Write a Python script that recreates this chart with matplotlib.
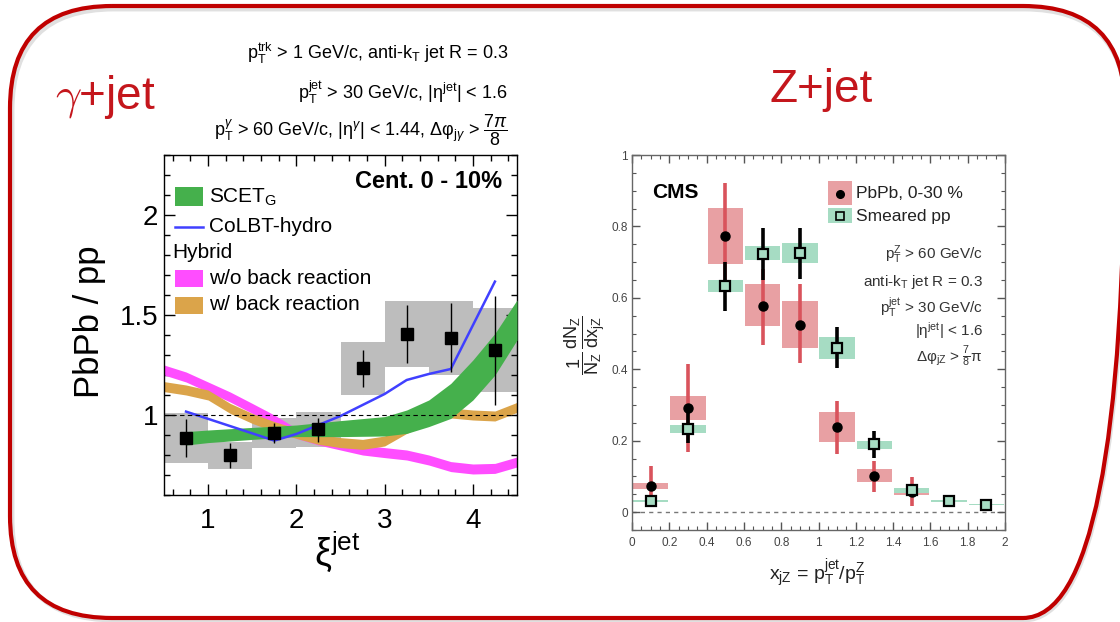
import numpy as np
import matplotlib
matplotlib.use("Agg")
import matplotlib.pyplot as plt
import matplotlib.patches as mpatches
from matplotlib.ticker import MultipleLocator

plt.rcParams['font.family'] = ['Liberation Sans', 'DejaVu Sans']
plt.rcParams['mathtext.fontset'] = 'custom'
plt.rcParams['mathtext.rm'] = 'Liberation Sans'
plt.rcParams['mathtext.it'] = 'Liberation Sans:italic'
plt.rcParams['mathtext.bf'] = 'Liberation Sans:bold'

# ---------------- gamma+jet: PbPb/pp vs xi^jet ----------------
xi_bins = [0.75, 1.25, 1.75, 2.25, 2.75, 3.25, 3.75, 4.25]
xi_ratio = [0.887, 0.800, 0.912, 0.930, 1.233, 1.405, 1.387, 1.325]
xi_stat_lo = [0.790, 0.737, 0.858, 0.867, 1.142, 1.260, 1.217, 1.050]
xi_stat_hi = [0.978, 0.858, 0.962, 0.983, 1.325, 1.550, 1.558, 1.595]
xi_sys_lo = [0.758, 0.730, 0.833, 0.842, 1.100, 1.242, 1.200, 1.117]
xi_sys_hi = [1.008, 0.867, 0.983, 1.017, 1.367, 1.570, 1.570, 1.533]

scet_x = [0.75, 1.0, 1.5, 2.0, 2.5, 3.0, 3.25, 3.5, 3.75, 4.0, 4.25, 4.5]
scet_lo = [0.850, 0.862, 0.878, 0.892, 0.892, 0.895, 0.908, 0.942, 0.983, 1.075, 1.200, 1.375]
scet_hi = [0.917, 0.925, 0.938, 0.950, 0.972, 0.992, 1.025, 1.075, 1.158, 1.275, 1.408, 1.575]

colbt_x = [0.75, 1.75, 2.0, 2.5, 3.0, 3.25, 3.5, 3.75, 4.25]
colbt_y = [1.017, 0.872, 0.905, 0.995, 1.105, 1.175, 1.205, 1.230, 1.667]

hyb_x = [0.5, 0.75, 1.0, 1.25, 1.5, 1.75, 2.0, 2.25, 2.5, 2.75, 3.0, 3.25,
         3.5, 3.75, 4.0, 4.25, 4.5]
hyb_wo = [1.225, 1.190, 1.140, 1.090, 1.033, 0.975, 0.908, 0.875, 0.850,
          0.825, 0.812, 0.800, 0.775, 0.742, 0.730, 0.733, 0.765]
hyb_w = [1.142, 1.125, 1.100, 1.033, 0.983, 0.942, 0.908, 0.878, 0.862,
         0.853, 0.870, 0.933, 0.983, 1.010, 1.000, 0.995, 1.038]
hyb_halfwidth = 0.025

# ---------------- Z+jet: x_jZ distribution ----------------
pb_x = [0.1, 0.3, 0.5, 0.7, 0.9, 1.1, 1.3, 1.5]
pb_y = [0.074, 0.291, 0.773, 0.577, 0.525, 0.238, 0.102, 0.056]
pb_stat_lo = [0.020, 0.168, 0.620, 0.468, 0.417, 0.164, 0.057, 0.017]
pb_stat_hi = [0.130, 0.414, 0.923, 0.680, 0.640, 0.312, 0.142, 0.098]
pb_sys_lo = [0.065, 0.257, 0.694, 0.520, 0.459, 0.196, 0.084, 0.047]
pb_sys_hi = [0.082, 0.325, 0.851, 0.640, 0.591, 0.281, 0.121, 0.065]

pp_x = [0.1, 0.3, 0.5, 0.7, 0.9, 1.1, 1.3, 1.5, 1.7, 1.9]
pp_y = [0.031, 0.232, 0.633, 0.723, 0.725, 0.461, 0.191, 0.063, 0.031, 0.021]
pp_stat_lo = [0.025, 0.193, 0.563, 0.651, 0.654, 0.403, 0.152, 0.055, 0.027, 0.018]
pp_stat_hi = [0.037, 0.286, 0.700, 0.796, 0.796, 0.519, 0.226, 0.071, 0.035, 0.024]
pp_sys_lo = [0.029, 0.223, 0.616, 0.705, 0.697, 0.430, 0.178, 0.054, 0.029, 0.019]
pp_sys_hi = [0.034, 0.245, 0.651, 0.744, 0.753, 0.491, 0.200, 0.068, 0.034, 0.023]

W, H = 1120, 622
RED = '#c4161c'


def px_axes(x0, y0, x1, y1, **kw):
    """Axes from pixel box (top-left origin)."""
    return fig.add_axes([x0 / W, 1 - y1 / H, (x1 - x0) / W, (y1 - y0) / H], **kw)


fig = plt.figure(figsize=(W / 100, H / 100), dpi=100)

# ---- left panel ----
axL = px_axes(164, 155, 517, 495)
for lo, hi, xc in zip(xi_sys_lo, xi_sys_hi, xi_bins):
    axL.add_patch(mpatches.Rectangle((xc - 0.25, lo), 0.5, hi - lo,
                                     facecolor='#bdbdbd', edgecolor='none', zorder=1))
hx = np.array(hyb_x)
axL.fill_between(hx, np.array(hyb_wo) - hyb_halfwidth, np.array(hyb_wo) + hyb_halfwidth,
                 color='#ff4dff', lw=0, zorder=2)
axL.fill_between(hx, np.array(hyb_w) - hyb_halfwidth, np.array(hyb_w) + hyb_halfwidth,
                 color='#dba44a', lw=0, zorder=2.1)
axL.fill_between(scet_x, scet_lo, scet_hi, color='#45b04c', lw=0, zorder=3)
axL.plot(colbt_x, colbt_y, color='#4040ff', lw=1.8, zorder=4)
axL.axhline(1.0, color='black', lw=0.8, ls=(0, (4, 3)), zorder=4)
yerr = [np.array(xi_ratio) - np.array(xi_stat_lo), np.array(xi_stat_hi) - np.array(xi_ratio)]
axL.errorbar(xi_bins, xi_ratio, yerr=yerr, fmt='s', color='black', ms=8,
             elinewidth=1, capsize=0, zorder=5)
axL.set_xlim(0.5, 4.5)
axL.set_ylim(0.6, 2.3)
axL.xaxis.set_major_locator(MultipleLocator(1))
axL.xaxis.set_minor_locator(MultipleLocator(0.2))
axL.yaxis.set_major_locator(MultipleLocator(0.5))
axL.yaxis.set_minor_locator(MultipleLocator(0.1))
axL.set_xticks([1, 2, 3, 4])
axL.set_xticklabels(['1', '2', '3', '4'])
axL.set_yticks([1, 1.5, 2])
axL.set_yticklabels(['1', '1.5', '2'])
axL.tick_params(which='both', direction='in', top=True, right=True, labelsize=20)
axL.tick_params(which='major', length=8, width=1)
axL.tick_params(which='minor', length=4, width=1)
axL.tick_params(axis='x', pad=9)
axL.tick_params(axis='y', pad=4)
for s in axL.spines.values():
    s.set_linewidth(1)
axL.set_facecolor('none')

# ---- right panel ----
axR = px_axes(632, 155, 1005, 530)
bw = 0.19
for xc, lo, hi in zip(pb_x, pb_sys_lo, pb_sys_hi):
    axR.add_patch(mpatches.Rectangle((xc - bw / 2, lo), bw, hi - lo,
                                     facecolor='#e8a0a3', edgecolor='none', zorder=1))
for xc, lo, hi in zip(pp_x, pp_sys_lo, pp_sys_hi):
    axR.add_patch(mpatches.Rectangle((xc - bw / 2, lo), bw, hi - lo,
                                     facecolor='#a6dcc3', edgecolor='none', zorder=1.5))
axR.axhline(0, color='#777777', lw=1, ls=(0, (3, 3)), zorder=0.5)
axR.errorbar(pb_x, pb_y,
             yerr=[np.array(pb_y) - np.array(pb_stat_lo), np.array(pb_stat_hi) - np.array(pb_y)],
             fmt='none', ecolor='#d9535c', elinewidth=2.6, capsize=0, zorder=2)
axR.errorbar(pp_x, pp_y,
             yerr=[np.array(pp_y) - np.array(pp_stat_lo), np.array(pp_stat_hi) - np.array(pp_y)],
             fmt='none', ecolor='black', elinewidth=2.6, capsize=0, zorder=3)
axR.plot(pb_x, pb_y, 'o', color='black', ms=6.5, zorder=4)
axR.plot(pp_x, pp_y, 's', mfc='#a6dcc3', mec='black', mew=1.6, ms=6.5, zorder=5)
axR.set_xlim(0, 2)
axR.set_ylim(-0.05, 1.0)
axR.set_xticks(np.arange(0, 2.01, 0.2))
axR.set_xticklabels(['0', '0.2', '0.4', '0.6', '0.8', '1', '1.2', '1.4', '1.6', '1.8', '2'])
axR.set_yticks([0, 0.2, 0.4, 0.6, 0.8, 1.0])
axR.set_yticklabels(['0', '0.2', '0.4', '0.6', '0.8', '1'])
axR.xaxis.set_minor_locator(MultipleLocator(0.05))
axR.yaxis.set_minor_locator(MultipleLocator(0.05))
axR.tick_params(which='both', direction='in', top=True, right=True, labelsize=8.5,
                colors='#555555', labelcolor='#444444')
axR.tick_params(which='major', length=6, width=1)
axR.tick_params(which='minor', length=3, width=0.8)
axR.tick_params(axis='x', pad=5)
axR.tick_params(axis='y', pad=3)
for s in axR.spines.values():
    s.set_linewidth(1)
    s.set_color('#666666')
axR.set_facecolor('none')

# ---- overlay: frame and text, in pixel coords ----
ov = fig.add_axes([0, 0, 1, 1], zorder=10)
ov.set_xlim(0, W)
ov.set_ylim(H, 0)
ov.axis('off')
ov.patch.set_alpha(0)

ov.add_patch(mpatches.FancyBboxPatch((12, 9), 1114, 611,
                                     boxstyle='round,pad=0,rounding_size=102',
                                     facecolor='none', edgecolor='#cccccc', lw=3.5, alpha=0.6))
ov.add_patch(mpatches.FancyBboxPatch((10, 6), 1115, 612,
                                     boxstyle='round,pad=0,rounding_size=102',
                                     facecolor='none', edgecolor='#c00000', lw=3))

ov.text(105, 97, r'$\gamma$+jet', color=RED, fontsize=33, ha='center', va='center',
        math_fontfamily='cm')
ov.text(821, 90, 'Z+jet', color=RED, fontsize=33, ha='center', va='center')

hdr = dict(ha='right', va='center', fontsize=13)
ov.text(508, 53, r'p$_\mathrm{T}^\mathrm{trk}$ > 1 GeV/c, anti-k$_\mathrm{T}$ jet R = 0.3', **hdr)
ov.text(508, 92, r'p$_\mathrm{T}^\mathrm{jet}$ > 30 GeV/c, |η$^\mathrm{jet}$| < 1.6', **hdr)
ov.text(508, 130, r'p$_\mathrm{T}^{\gamma}$ > 60 GeV/c, |η$^{\gamma}$| < 1.44, Δφ$_{\mathrm{j}\gamma}$ > $\dfrac{7\pi}{8}$', **hdr)
ov.text(502, 182, 'Cent. 0 - 10%', ha='right', va='center', fontsize=17, fontweight='bold')

# left legend
ov.add_patch(mpatches.Rectangle((175, 187), 28, 19, facecolor='#45b04c', edgecolor='none'))
ov.text(209, 197, r'SCET$_\mathrm{G}$', fontsize=15, va='center')
ov.plot([175, 203], [227, 227], color='#4040ff', lw=1.8)
ov.text(209, 227, 'CoLBT-hydro', fontsize=15, va='center')
ov.text(172, 253, 'Hybrid', fontsize=15, va='center')
ov.add_patch(mpatches.Rectangle((175, 270), 28, 17, facecolor='#ff4dff', edgecolor='none'))
ov.text(209, 279, 'w/o back reaction', fontsize=15, va='center')
ov.add_patch(mpatches.Rectangle((175, 297), 28, 17, facecolor='#dba44a', edgecolor='none'))
ov.text(209, 305, 'w/ back reaction', fontsize=15, va='center')

ov.text(90, 322, 'PbPb / pp', rotation=90, fontsize=25, ha='center', va='center')
ov.text(337, 552, r'ξ$^\mathrm{jet}$', fontsize=27, ha='center', va='center')

# right panel text
ov.text(652, 193, 'CMS', fontsize=15, fontweight='bold', va='center')
ov.add_patch(mpatches.Rectangle((828, 181), 24, 24, facecolor='#e8a0a3', edgecolor='none'))
ov.plot([840], [194], 'o', color='black', ms=5.5)
ov.text(856, 194, 'PbPb, 0-30 %', fontsize=12.5, va='center', color='#222222')
ov.add_patch(mpatches.Rectangle((828, 208), 24, 15, facecolor='#a6dcc3', edgecolor='none'))
ov.plot([840], [216], 's', mfc='#a6dcc3', mec='black', mew=1.2, ms=5.5)
ov.text(856, 216, 'Smeared pp', fontsize=12.5, va='center', color='#222222')

ann = dict(ha='right', va='center', fontsize=11, color='#333333')
ov.text(983, 255, r'p$_\mathrm{T}^\mathrm{Z}$ > 60 GeV/c', **ann)
ov.text(983, 282, r'anti-k$_\mathrm{T}$ jet R = 0.3', **ann)
ov.text(983, 307, r'p$_\mathrm{T}^\mathrm{jet}$ > 30 GeV/c', **ann)
ov.text(983, 331, r'|η$^\mathrm{jet}$| < 1.6', **ann)
ov.text(983, 357, r'Δφ$_\mathrm{jZ}$ > $\frac{7}{8}$π', **ann)

ov.text(585, 345, r'$\dfrac{1}{\mathrm{N_Z}}\,\dfrac{\mathrm{dN_Z}}{\mathrm{dx_{jZ}}}$',
        rotation=90, fontsize=13, ha='center', va='center', color='#222222')
ov.text(817, 574, r'x$_\mathrm{jZ}$ = p$_\mathrm{T}^\mathrm{jet}$/p$_\mathrm{T}^\mathrm{Z}$',
        fontsize=14, ha='center', va='center', color='#222222')

fig.savefig('out.png', dpi=100)
